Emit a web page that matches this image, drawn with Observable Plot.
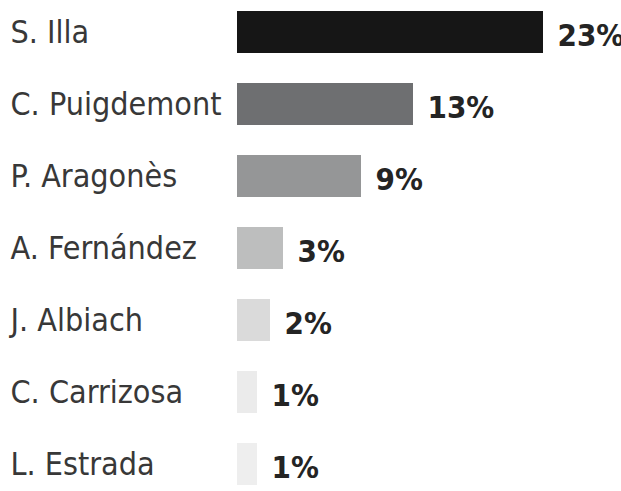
<!DOCTYPE html>
<html>
<head>
<meta charset="utf-8">
<script src="https://cdn.jsdelivr.net/npm/d3@7"></script>
<script src="https://cdn.jsdelivr.net/npm/@observablehq/plot@0.6"></script>
<style>
  html, body { margin: 0; padding: 0; background: #fff; }
  #chart { width: 621px; height: 491px; overflow: hidden; }
</style>
</head>
<body>
<div id="chart"></div>
<script>
const names = ["S. Illa", "C. Puigdemont", "P. Aragonès", "A. Fernández", "J. Albiach", "C. Carrizosa", "L. Estrada"];
const values = [23, 13, 9, 3, 2, 1, 1];
const labels = ["23%", "13%", "9%", "3%", "2%", "1%", "1%"];
const colors = ["#161616", "#6e6f71", "#959697", "#bdbebe", "#dadada", "#ebebeb", "#eeeeee"];

const data = names.map((n, i) => ({name: n, value: values[i], label: labels[i], color: colors[i]}));
const font = "'DejaVu Sans Condensed', 'DejaVu Sans', sans-serif";

const chart = Plot.plot({
  width: 621,
  height: 491,
  margin: 0,
  style: {fontFamily: font, background: "#fff"},
  x: {domain: [0, 23], range: [244, 543], axis: null},
  y: {domain: names, range: [-6.3, 502.3], paddingInner: 0.42, paddingOuter: 0.21, axis: null},
  marks: [
    Plot.barX(data, {x: "value", y: "name", fill: "color", insetLeft: -7}),
    Plot.text(data, {y: "name", text: "name", frameAnchor: "left", dx: 10, textAnchor: "start",
      fontSize: 32, fill: "#383838"}),
    Plot.text(data, {x: "value", y: "name", text: "label", dx: 14, dy: 4, textAnchor: "start",
      fontSize: 31, fontWeight: "bold", fill: "#242424"})
  ]
});
document.getElementById("chart").appendChild(chart);
</script>
</body>
</html>
